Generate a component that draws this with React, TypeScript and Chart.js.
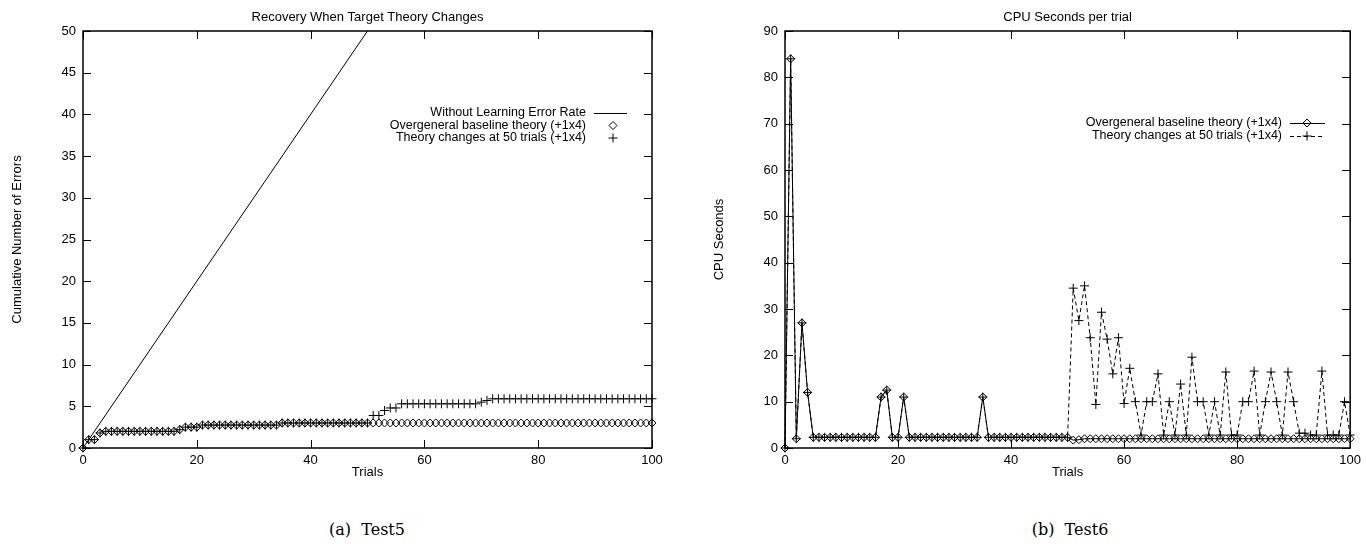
import React, { useEffect, useRef } from "react";
import { Chart, registerables } from "chart.js";

Chart.register(...registerables);

// ---------- data ----------
const trials: number[] = Array.from({ length: 101 }, (_, i) => i);

const withoutLearningTrials = [0, 100];
const withoutLearningErrors = [0, 100];

const baselineErrors = [
  0, 1, 1, 1.8,
  2, 2, 2, 2, 2, 2, 2, 2, 2, 2, 2, 2, 2,
  2.2, 2.5, 2.5, 2.5,
  2.75, 2.75, 2.75, 2.75, 2.75, 2.75, 2.75, 2.75, 2.75, 2.75, 2.75, 2.75, 2.75, 2.75,
  3, 3, 3, 3, 3, 3, 3, 3, 3, 3, 3, 3, 3, 3, 3, 3,
  3, 3, 3, 3, 3, 3, 3, 3, 3, 3, 3, 3, 3, 3, 3, 3, 3, 3, 3, 3, 3, 3, 3, 3, 3,
  3, 3, 3, 3, 3, 3, 3, 3, 3, 3, 3, 3, 3, 3, 3, 3, 3, 3, 3, 3, 3, 3, 3, 3, 3,
];

const changedErrors = [
  0, 1, 1, 1.8,
  2, 2, 2, 2, 2, 2, 2, 2, 2, 2, 2, 2, 2,
  2.2, 2.5, 2.5, 2.5,
  2.75, 2.75, 2.75, 2.75, 2.75, 2.75, 2.75, 2.75, 2.75, 2.75, 2.75, 2.75, 2.75, 2.75,
  3, 3, 3, 3, 3, 3, 3, 3, 3, 3, 3, 3, 3, 3, 3, 3,
  3.9, 3.9, 4.5, 4.8, 4.8,
  5.3, 5.3, 5.3, 5.3, 5.3, 5.3, 5.3, 5.3, 5.3, 5.3, 5.3, 5.3, 5.3, 5.3,
  5.5, 5.7,
  5.9, 5.9, 5.9, 5.9, 5.9, 5.9, 5.9, 5.9, 5.9, 5.9, 5.9, 5.9, 5.9, 5.9,
  5.9, 5.9, 5.9, 5.9, 5.9, 5.9, 5.9, 5.9, 5.9, 5.9, 5.9, 5.9, 5.9, 5.9, 5.9,
];

const cpuBaseline = [
  0, 84, 2, 27, 12,
  2.3, 2.3, 2.3, 2.3, 2.3, 2.3, 2.3, 2.3, 2.3, 2.3, 2.3, 2.3,
  11, 12.5, 2.3, 2.3, 11,
  2.3, 2.3, 2.3, 2.3, 2.3, 2.3, 2.3, 2.3, 2.3, 2.3, 2.3, 2.3, 2.3,
  11,
  2.3, 2.3, 2.3, 2.3, 2.3, 2.3, 2.3, 2.3, 2.3, 2.3, 2.3, 2.3, 2.3, 2.3, 2.3,
  1.7, 1.8, 2, 2, 2, 2, 2, 2, 2, 2, 2, 2, 2, 2, 2, 2, 2, 2, 2, 2, 2, 2, 2, 2, 2,
  2, 2, 2, 2, 2, 2, 2, 2, 2, 2, 2, 2, 2, 2, 2, 2, 2, 2, 2, 2, 2, 2, 2, 2, 2,
];

const cpuChanged = [
  0, 84, 2, 27, 12,
  2.3, 2.3, 2.3, 2.3, 2.3, 2.3, 2.3, 2.3, 2.3, 2.3, 2.3, 2.3,
  11, 12.5, 2.3, 2.3, 11,
  2.3, 2.3, 2.3, 2.3, 2.3, 2.3, 2.3, 2.3, 2.3, 2.3, 2.3, 2.3, 2.3,
  11,
  2.3, 2.3, 2.3, 2.3, 2.3, 2.3, 2.3, 2.3, 2.3, 2.3, 2.3, 2.3, 2.3, 2.3, 2.3,
  34.5, 27.5, 35, 23.8, 9.4, 29.3, 23.5, 16, 23.8, 9.6,
  17.2, 10, 2.8, 10, 10, 16, 2.8, 10, 2.8, 13.8,
  2.8, 19.6, 10, 10, 2.8, 10, 2.8, 16.4, 2.8, 2.8,
  10, 10, 16.6, 2.8, 10, 16.4, 10, 2.8, 16.4, 10,
  3.2, 3.2, 2.8, 2.8, 16.6, 2.8, 2.8, 2.8, 10, 2.8,
];

const xTickStep = 20;
const leftYMax = 50;
const leftYStep = 5;
const rightYMax = 90;
const rightYStep = 10;

const leftTitle = "Recovery When Target Theory Changes";
const rightTitle = "CPU Seconds per trial";
const xTitle = "Trials";
const leftYTitle = "Cumulative Number of Errors";
const rightYTitle = "CPU Seconds";
const labelWithout = "Without Learning Error Rate";
const labelBaseline = "Overgeneral baseline theory (+1x4)";
const labelChanged = "Theory changes at 50 trials (+1x4)";

// ---------- helpers ----------
const FONT = '"Liberation Sans", Arial, Helvetica, sans-serif';
const FS = 13;
const LFS = 12.5;
const CW = 683;
const CH = 490;

function pts(xs: number[], ys: number[]) {
  return xs.map((x, i) => ({ x, y: ys[i] }));
}

function drawMarker(ctx: CanvasRenderingContext2D, style: string, x: number, y: number) {
  ctx.beginPath();
  if (style === "rectRot") {
    const r = 4;
    ctx.moveTo(x - r, y);
    ctx.lineTo(x, y - r);
    ctx.lineTo(x + r, y);
    ctx.lineTo(x, y + r);
    ctx.closePath();
  } else {
    const r = 4.5;
    ctx.moveTo(x - r, y);
    ctx.lineTo(x + r, y);
    ctx.moveTo(x, y - r);
    ctx.lineTo(x, y + r);
  }
  ctx.stroke();
}

type LegendItem = { label: string; line?: boolean; dash?: number[]; marker?: string };
type Spec = {
  title: string;
  yTitle: string;
  yTitleX: number;
  legend: LegendItem[];
  legendTextRight: number;
  legendS1: number;
  legendS2: number;
  legendMarkerX: number;
  legendY: number[];
};

function makeFramePlugin(spec: Spec) {
  return {
    id: "frame",
    afterDraw(chart: any) {
      const { ctx, chartArea: a, scales } = chart;
      const xs = scales.x;
      const ys = scales.y;
      ctx.save();
      ctx.strokeStyle = "#000";
      ctx.fillStyle = "#000";
      ctx.lineWidth = 1;
      ctx.setLineDash([]);
      ctx.beginPath();
      const T = 8;
      for (const t of xs.ticks) {
        const px = Math.round(xs.getPixelForValue(t.value)) + 0.5;
        ctx.moveTo(px, a.bottom);
        ctx.lineTo(px, a.bottom - T);
        ctx.moveTo(px, a.top);
        ctx.lineTo(px, a.top + T);
      }
      for (const t of ys.ticks) {
        const py = Math.round(ys.getPixelForValue(t.value)) + 0.5;
        ctx.moveTo(a.left, py);
        ctx.lineTo(a.left + T, py);
        ctx.moveTo(a.right, py);
        ctx.lineTo(a.right - T, py);
      }
      ctx.stroke();
      ctx.lineWidth = 1.5;
      ctx.strokeRect(a.left, a.top, a.right - a.left, a.bottom - a.top);

      ctx.font = `${FS}px ${FONT}`;
      ctx.textBaseline = "middle";
      ctx.textAlign = "center";
      const cx = (a.left + a.right) / 2;
      ctx.fillText(spec.title, cx, 17);
      ctx.fillText(xTitle, cx, 472);
      ctx.save();
      ctx.translate(spec.yTitleX, (a.top + a.bottom) / 2);
      ctx.rotate(-Math.PI / 2);
      ctx.fillText(spec.yTitle, 0, 0);
      ctx.restore();

      ctx.font = `${LFS}px ${FONT}`;
      ctx.lineWidth = 1;
      spec.legend.forEach((it, i) => {
        const y = spec.legendY[i];
        ctx.textAlign = "right";
        ctx.fillText(it.label, spec.legendTextRight, y);
        if (it.line) {
          ctx.setLineDash(it.dash || []);
          ctx.beginPath();
          ctx.moveTo(spec.legendS1, Math.round(y) + 0.5);
          ctx.lineTo(spec.legendS2, Math.round(y) + 0.5);
          ctx.stroke();
          ctx.setLineDash([]);
        }
        if (it.marker) drawMarker(ctx, it.marker, spec.legendMarkerX, y);
      });
      ctx.restore();
    },
  };
}

function makeConfig(datasets: any[], yMax: number, yStep: number, yWidth: number, plotRight: number, spec: Spec) {
  return {
    type: "line",
    data: { datasets },
    options: {
      animation: false,
      responsive: false,
      devicePixelRatio: 1,
      layout: { padding: { top: 31, left: 0, right: CW - plotRight, bottom: CH - 448 - 20 } },
      plugins: { legend: { display: false }, tooltip: { enabled: false }, title: { display: false } },
      elements: { line: { tension: 0 } },
      scales: {
        x: {
          type: "linear",
          min: 0,
          max: 100,
          grid: { display: false, drawTicks: false },
          border: { display: false },
          ticks: { stepSize: xTickStep, color: "#000", font: { family: FONT, size: FS }, padding: 5, maxRotation: 0 },
          afterFit: (s: any) => { s.height = 20; },
        },
        y: {
          type: "linear",
          min: 0,
          max: yMax,
          grid: { display: false, drawTicks: false },
          border: { display: false },
          ticks: { stepSize: yStep, color: "#000", font: { family: FONT, size: FS }, padding: 7 },
          afterFit: (s: any) => { s.width = yWidth; },
        },
      },
    },
    plugins: [makeFramePlugin(spec)],
  };
}

function ChartCanvas({ config }: { config: () => any }) {
  const ref = useRef<HTMLCanvasElement | null>(null);
  useEffect(() => {
    if (!ref.current) return;
    const c = new Chart(ref.current, config());
    return () => c.destroy();
  }, []);
  return <canvas ref={ref} width={CW} height={CH} style={{ display: "block", width: CW, height: CH }} />;
}

const leftConfig = () =>
  makeConfig(
    [
      {
        label: labelWithout,
        data: pts(withoutLearningTrials, withoutLearningErrors),
        borderColor: "#000",
        borderWidth: 1,
        pointRadius: 0,
        showLine: true,
        clip: 0,
      },
      {
        label: labelBaseline,
        data: pts(trials, baselineErrors),
        showLine: false,
        pointStyle: "rectRot",
        pointRadius: 4,
        pointBorderColor: "#000",
        pointBackgroundColor: "rgba(0,0,0,0)",
        pointBorderWidth: 1,
        clip: 10,
      },
      {
        label: labelChanged,
        data: pts(trials, changedErrors),
        showLine: false,
        pointStyle: "cross",
        pointRadius: 4.5,
        pointBorderColor: "#000",
        pointBorderWidth: 1,
        clip: 10,
      },
    ],
    leftYMax,
    leftYStep,
    83,
    652,
    {
      title: leftTitle,
      yTitle: leftYTitle,
      yTitleX: 17,
      legend: [
        { label: labelWithout, line: true },
        { label: labelBaseline, marker: "rectRot" },
        { label: labelChanged, marker: "cross" },
      ],
      legendTextRight: 586,
      legendS1: 594,
      legendS2: 627,
      legendMarkerX: 613,
      legendY: [113, 125.5, 138],
    }
  );

const rightConfig = () =>
  makeConfig(
    [
      {
        label: labelBaseline,
        data: pts(trials, cpuBaseline),
        borderColor: "#000",
        borderWidth: 1,
        pointStyle: "rectRot",
        pointRadius: 4,
        pointBorderColor: "#000",
        pointBackgroundColor: "rgba(0,0,0,0)",
        pointBorderWidth: 1,
        clip: 10,
      },
      {
        label: labelChanged,
        data: pts(trials, cpuChanged),
        borderColor: "#000",
        borderWidth: 1,
        borderDash: [4, 3],
        pointStyle: "cross",
        pointRadius: 4.5,
        pointBorderColor: "#000",
        pointBorderWidth: 1,
        clip: 10,
      },
    ],
    rightYMax,
    rightYStep,
    102,
    672,
    {
      title: rightTitle,
      yTitle: rightYTitle,
      yTitleX: 36,
      legend: [
        { label: labelBaseline, line: true, marker: "rectRot" },
        { label: labelChanged, line: true, dash: [4, 3], marker: "cross" },
      ],
      legendTextRight: 599,
      legendS1: 607,
      legendS2: 642,
      legendMarkerX: 624,
      legendY: [123, 136],
    }
  );

const captionStyle: React.CSSProperties = {
  position: "absolute",
  top: 519,
  width: 300,
  textAlign: "center",
  fontFamily: '"DejaVu Serif", serif',
  fontSize: 16,
  lineHeight: "22px",
  whiteSpace: "pre",
  color: "#000",
};

export default function App() {
  return (
    <div style={{ position: "fixed", left: 0, top: 0, width: 1366, height: 548, background: "#fff", overflow: "hidden" }}>
      <div style={{ position: "absolute", left: 0, top: 0 }}>
        <ChartCanvas config={leftConfig} />
      </div>
      <div style={{ position: "absolute", left: CW, top: 0 }}>
        <ChartCanvas config={rightConfig} />
      </div>
      <div style={{ ...captionStyle, left: 367 - 150 }}>{"(a)  Test5"}</div>
      <div style={{ ...captionStyle, left: 1070 - 150 }}>{"(b)  Test6"}</div>
    </div>
  );
}
